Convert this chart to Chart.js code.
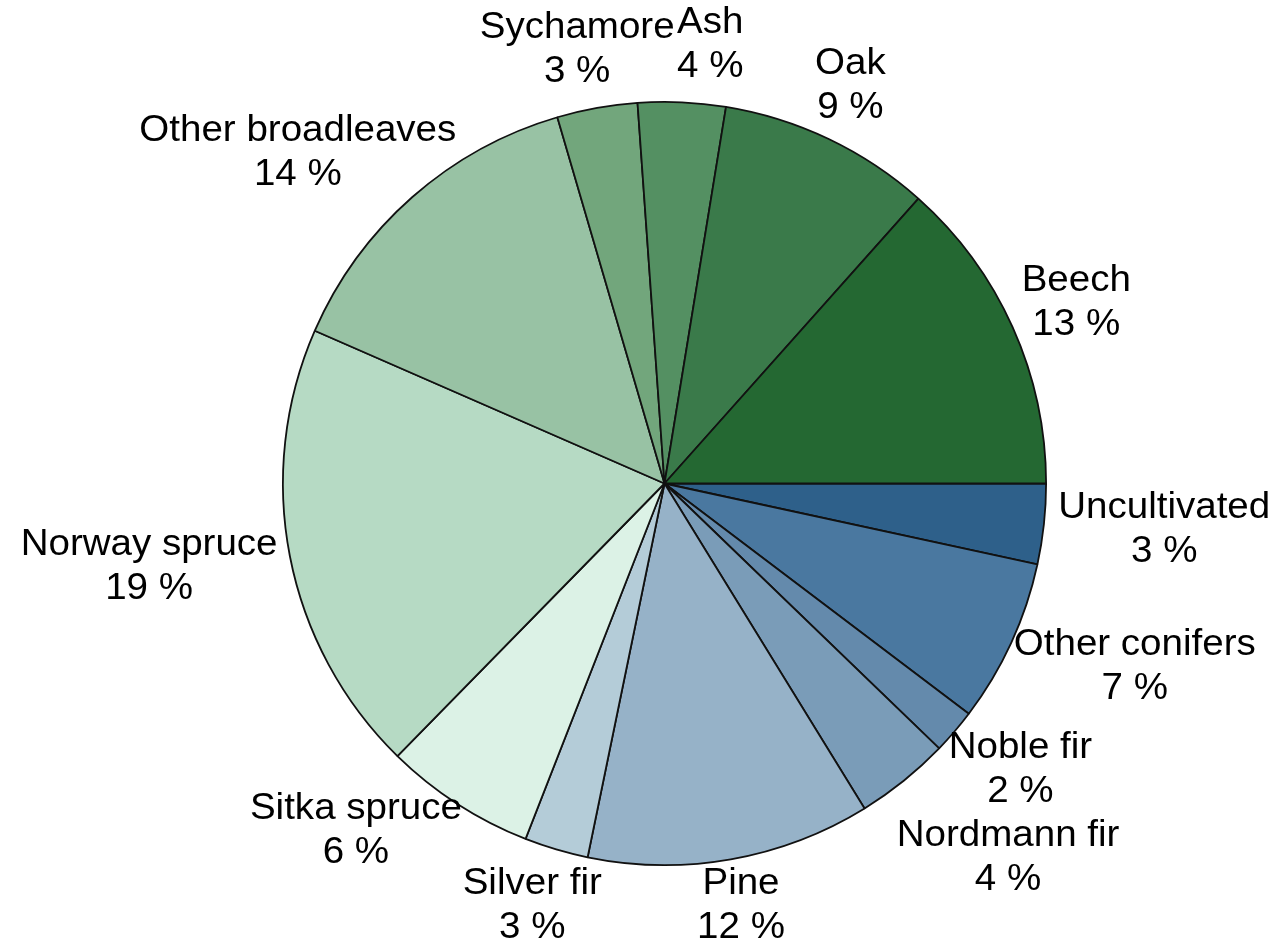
<!DOCTYPE html>
<html>
<head>
<meta charset="utf-8">
<title>Forest area by species</title>
<script src="https://cdn.jsdelivr.net/npm/chart.js@4.4.0/dist/chart.umd.min.js"></script>
<style>
  html, body { margin: 0; padding: 0; background: #fff; }
  #wrap { width: 1278px; height: 950px; }
</style>
</head>
<body>
<div id="wrap"><canvas id="pie" width="1278" height="950"></canvas></div>
<script>
// species, clockwise from 3 o'clock
const species = [
  'Uncultivated', 'Other conifers', 'Noble fir', 'Nordmann fir', 'Pine',
  'Silver fir', 'Sitka spruce', 'Norway spruce', 'Other broadleaves',
  'Sychamore', 'Ash', 'Oak', 'Beech'
];
// share of area
const shares = [3.4, 6.9, 1.9, 4.0, 12.0, 2.7, 6.4, 19.2, 13.9, 3.4, 3.7, 9.0, 13.4];
const sliceColors = [
  '#2e608a', '#4a78a0', '#648aac', '#7a9cb8', '#96b2c8',
  '#b4ccd8', '#dcf2e6', '#b6dac4', '#98c2a4',
  '#72a67c', '#549062', '#3a7a4a', '#246832'
];

const FONT = '36px "Liberation Sans", Arial, sans-serif';
const SX = 1.07;      // text is a little wide in the original
const LINE_H = 44;
const GAP = 15;

const total = shares.reduce((a, b) => a + b, 0);

function overlaps(a, b) {
  return a.l < b.r && a.r > b.l && a.t < b.b && a.b > b.t;
}

const outsideLabels = {
  id: 'outsideLabels',
  afterDatasetsDraw(chart) {
    const ctx = chart.ctx;
    const W = chart.width, H = chart.height;
    const meta = chart.getDatasetMeta(0);
    const placed = [];
    ctx.save();
    ctx.font = FONT;
    ctx.fillStyle = '#000';
    ctx.textAlign = 'center';
    ctx.textBaseline = 'middle';

    meta.data.forEach((arc, i) => {
      const p = arc.getProps(['x', 'y', 'startAngle', 'endAngle', 'outerRadius'], true);
      const lines = [species[i], Math.round(shares[i] / total * 100) + ' %'];
      const w = Math.max(...lines.map(s => ctx.measureText(s).width)) * SX;
      const h = LINE_H * lines.length;
      const mid = (p.startAngle + p.endAngle) / 2;

      const boxAt = (a, dist) => {
        const c = Math.cos(a), s = Math.sin(a);
        let cx = p.x + dist * c + w / 2 * c;
        let cy = p.y + dist * s + h / 2 * s;
        cx = Math.min(Math.max(cx, w / 2), W - w / 2);
        cy = Math.min(Math.max(cy, h / 2), H - h / 2);
        return { cx, cy, l: cx - w / 2, r: cx + w / 2, t: cy - h / 2, b: cy + h / 2 };
      };
      const free = b => !placed.some(q => overlaps(b, q));

      // nudge a label that hits an earlier one: turn it on or push it out, whichever moves less
      const base = p.outerRadius + GAP;
      let box = boxAt(mid, base);
      if (!free(box)) {
        let rot = null, rad = null;
        for (let k = 1; k <= 120 && !rot; k++) {
          const b = boxAt(mid + k * Math.PI / 360, base);
          if (free(b)) rot = b;
        }
        for (let k = 1; k <= 120 && !rad; k++) {
          const b = boxAt(mid, base + k * 2);
          if (free(b)) rad = b;
        }
        const d = b => b ? Math.hypot(b.cx - box.cx, b.cy - box.cy) : Infinity;
        box = d(rot) <= d(rad) ? (rot || box) : rad;
      }
      placed.push(box);

      lines.forEach((s, j) => {
        const ly = box.cy + (j - (lines.length - 1) / 2) * LINE_H;
        ctx.save();
        ctx.translate(box.cx, ly);
        ctx.scale(SX, 1);
        ctx.fillText(s, 0, 0);
        ctx.restore();
      });
    });
    ctx.restore();
  }
};

new Chart(document.getElementById('pie'), {
  type: 'pie',
  data: {
    labels: species,
    datasets: [{
      data: shares,
      backgroundColor: sliceColors,
      borderColor: '#111',
      borderWidth: 1.8
    }]
  },
  options: {
    responsive: false,
    animation: false,
    rotation: 90,
    layout: { padding: { left: 282, right: 231, top: 101, bottom: 84 } },
    plugins: {
      legend: { display: false },
      tooltip: { enabled: false }
    }
  },
  plugins: [outsideLabels]
});
</script>
</body>
</html>
